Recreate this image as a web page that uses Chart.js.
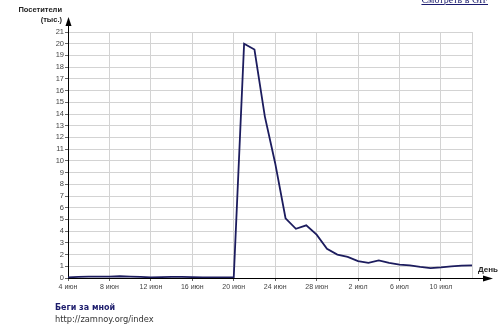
<!DOCTYPE html>
<html>
<head>
<meta charset="utf-8">
<script src="https://cdn.jsdelivr.net/npm/chart.js@4"></script>
<style>
  body { margin: 0; background: #fff; }
  #wrap { position: relative; width: 500px; height: 326px; overflow: hidden; }
  #visitorsChart { position: absolute; left: 0; top: 0; }
  .txt { position: absolute; font-family: "Liberation Sans", Arial, sans-serif; color: #222; white-space: nowrap; }
  .ytitle { font-weight: bold; font-size: 7.5px; text-align: right; width: 60px; left: 2px; }
  .gif { right: 12px; top: -6px; font-family: "Liberation Serif", serif; font-size: 10px; color: #1a1a6e; text-decoration: underline; }
  .day { left: 478px; top: 265px; font-weight: bold; font-size: 8px; }
  .site { left: 55px; top: 303px; font-family: "DejaVu Sans", Verdana, sans-serif; font-weight: bold; font-size: 8px; color: #1c1c6c; }
  .url { left: 55px; top: 314px; font-family: "DejaVu Sans", Verdana, sans-serif; font-size: 8.3px; color: #333; }
</style>
</head>
<body>
<div id="wrap">
  <canvas id="visitorsChart" width="500" height="326"></canvas>
  <div class="txt ytitle" style="top:5px">Посетители</div>
  <div class="txt ytitle" style="top:15px">(тыс.)</div>
  <div class="txt gif">Смотреть в GIF</div>
  <div class="txt day">День</div>
  <div class="txt site">Беги за мной</div>
  <div class="txt url">http://zamnoy.org/index</div>
</div>
<script>
// days: 4 июн .. 13 июл
const dayLabels = [
  '4 июн', '5 июн', '6 июн', '7 июн', '8 июн', '9 июн', '10 июн', '11 июн', '12 июн', '13 июн',
  '14 июн', '15 июн', '16 июн', '17 июн', '18 июн', '19 июн', '20 июн', '21 июн', '22 июн', '23 июн',
  '24 июн', '25 июн', '26 июн', '27 июн', '28 июн', '29 июн', '30 июн', '1 июл', '2 июл', '3 июл',
  '4 июл', '5 июл', '6 июл', '7 июл', '8 июл', '9 июл', '10 июл', '11 июл', '12 июл', '13 июл'
];
// visitors, thousands
const visitors = [
  0.05, 0.1, 0.12, 0.12, 0.12, 0.15, 0.12, 0.1, 0.05, 0.08,
  0.1, 0.1, 0.08, 0.05, 0.05, 0.05, 0.05, 20.0, 19.5, 13.8,
  9.8, 5.1, 4.2, 4.5, 3.7, 2.5, 2.0, 1.8, 1.45, 1.3,
  1.5, 1.3, 1.15, 1.08, 0.95, 0.85, 0.9, 1.0, 1.05, 1.08
];
const yMin = 0, yMax = 21, yStep = 1;
const labelEvery = 4;

// extends axis lines and draws arrow heads
const axisArrows = {
  id: 'axisArrows',
  afterDraw(chart) {
    const { ctx, chartArea } = chart;
    ctx.save();
    ctx.strokeStyle = '#000';
    ctx.fillStyle = '#000';
    ctx.lineWidth = 1;
    const x0 = Math.round(chartArea.left) + 0.5;
    const y0 = Math.round(chartArea.bottom) + 0.5;
    ctx.beginPath();
    ctx.moveTo(x0, chartArea.top);
    ctx.lineTo(x0, 24);
    ctx.moveTo(chartArea.right, y0);
    ctx.lineTo(484, y0);
    ctx.stroke();
    ctx.beginPath();
    ctx.moveTo(x0, 17);
    ctx.lineTo(x0 - 3, 26);
    ctx.lineTo(x0 + 3, 26);
    ctx.closePath();
    ctx.fill();
    ctx.beginPath();
    ctx.moveTo(493, y0);
    ctx.lineTo(483, y0 - 3);
    ctx.lineTo(483, y0 + 3);
    ctx.closePath();
    ctx.fill();
    ctx.restore();
  }
};

const ctxVisitors = document.getElementById('visitorsChart').getContext('2d');
const visitorsChart = new Chart(ctxVisitors, {
  type: 'line',
  data: {
    labels: dayLabels,
    datasets: [{
      label: 'Посетители',
      data: visitors,
      borderColor: '#1c1c5e',
      borderWidth: 1.8,
      pointRadius: 0,
      tension: 0,
      fill: false,
    }]
  },
  options: {
    responsive: false,
    animation: false,
    layout: {
      padding: { left: 0, top: 32, right: 28, bottom: 28 }
    },
    scales: {
      x: {
        offset: false,
        afterFit: s => { s.height = 20; },
        grid: {
          color: c => (c.index % labelEvery === 0 || c.index === dayLabels.length - 1) ? '#d3d3d3' : 'rgba(0,0,0,0)',
          tickLength: 3,
          tickColor: c => (c.index % labelEvery === 0 && c.index < dayLabels.length - 1) ? '#666' : 'rgba(0,0,0,0)',
        },
        border: { color: '#000', width: 1 },
        ticks: {
          autoSkip: false,
          maxRotation: 0,
          padding: 2,
          color: '#444',
          font: { family: 'Liberation Sans', size: 7 },
          callback: (v, i) => (i % labelEvery === 0 && i < dayLabels.length - 1) ? dayLabels[i] : '',
        }
      },
      y: {
        min: yMin,
        max: yMax,
        afterFit: s => { s.width = 68; },
        grid: {
          color: '#d3d3d3',
          tickLength: 3,
          tickColor: '#666',
        },
        border: { color: '#000', width: 1 },
        ticks: {
          stepSize: yStep,
          autoSkip: false,
          padding: 1,
          color: '#444',
          font: { family: 'Liberation Sans', size: 7.5 },
        }
      }
    },
    plugins: {
      legend: { display: false },
      tooltip: { enabled: false }
    }
  },
  plugins: [axisArrows]
});
</script>
</body>
</html>
